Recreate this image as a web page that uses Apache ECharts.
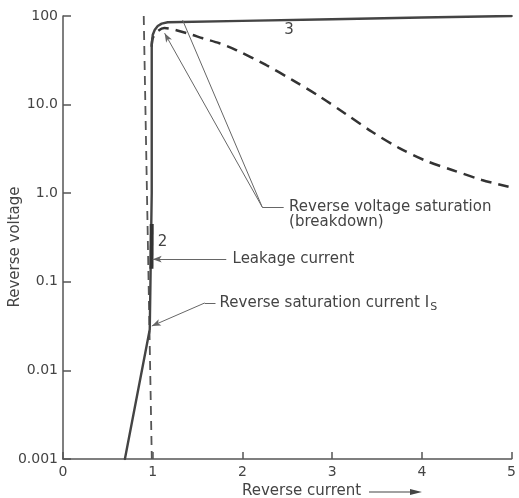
<!DOCTYPE html>
<html><head><meta charset="utf-8">
<script src="https://cdn.jsdelivr.net/npm/echarts@6/dist/echarts.min.js"></script>
<style>html,body{margin:0;padding:0;background:#fff}#c{width:519px;height:498px}</style>
</head><body><div id="c"></div>
<script>
// ---- data ----
const yTickValues = [0.001, 0.01, 0.1, 1, 10, 100];
const yTickLabels = ['0.001', '0.01', '0.1', '1.0', '10.0', '100'];

// curve 1/3: reverse saturation + breakdown knee + flat top (solid)
const solidX = [0.69, 0.967, 0.975, 0.989, 0.989, 1.0, 1.022, 1.056, 1.1, 1.167, 2.0, 3.0, 4.0, 5.0];
const solidY = [0.001, 0.029, 0.1, 1, 47, 61, 69.5, 77, 82, 85, 88, 92, 96, 100];

// curve 2: thick leakage segment
const leakX = [0.986, 0.989];
const leakY = [0.14, 0.45];

// dashed near-vertical line
const vDashX = [0.9, 0.99];
const vDashY = [100, 0.001];

// dashed breakdown curve
const dashX = [0.989, 1.0, 1.055, 1.13, 1.38, 1.559, 1.744, 1.93, 2.263, 2.559, 2.856, 3.152, 3.448, 3.744, 4.041, 4.337, 4.67, 4.967];
const dashY = [45, 56, 67, 73, 64, 56, 49.2, 41.3, 28, 18.9, 12.45, 7.85, 4.9, 3.25, 2.33, 1.83, 1.41, 1.18];

// annotation anchors (data coordinates)
const breakJoint = [2.22, 0.70];
const breakTipA = [1.133, 64];
const breakTipB = [1.333, 90];
const breakEnd = [2.46, 0.70];
const breakText = [2.52, 0.70];
const leakTip = [1.0, 0.18];
const leakEnd = [1.82, 0.18];
const leakText = [1.89, 0.18];
const satTip = [0.99, 0.0317];
const satBend = [1.58, 0.0577];
const satEnd = [1.70, 0.0577];
const satText = [1.745, 0.0577];
const label3 = [2.52, 69];
const label2 = [1.11, 0.28];

const zip = (a, b) => a.map((v, i) => [v, b[i]]);
const FONT = 'DejaVu Sans';
const INK = '#444';

const chart = echarts.init(document.getElementById('c'), null, {renderer: 'canvas'});
const lineStyleA = {color: '#666', width: 1, type: 'solid'};
const seg = (a, b, arrow) => [
  {coord: a, symbol: 'none'},
  {coord: b, symbol: arrow ? 'arrow' : 'none', symbolSize: arrow ? [5, 9] : 0}
];

chart.setOption({
  animation: false,
  grid: {left: 63, right: 4, top: 16, bottom: 39, containLabel: false},
  xAxis: {
    type: 'value', min: 0, max: 5, interval: 1,
    axisLine: {lineStyle: {color: '#555', width: 1.5}},
    axisTick: {inside: true, length: 7, lineStyle: {color: '#555', width: 1.5}},
    axisLabel: {color: INK, fontSize: 14, fontFamily: FONT, margin: 6},
    splitLine: {show: false}
  },
  yAxis: {
    type: 'log', logBase: 10, min: 0.001, max: 100,
    axisLine: {show: true, lineStyle: {color: '#555', width: 1.5}},
    axisTick: {show: true, inside: true, length: 8, lineStyle: {color: '#555', width: 1.5}},
    axisLabel: {
      color: INK, fontSize: 14, fontFamily: FONT, margin: 5,
      formatter: v => {
        const e = Math.round(Math.log10(v));
        const i = yTickValues.findIndex(t => Math.round(Math.log10(t)) === e);
        return i >= 0 ? yTickLabels[i] : '';
      }
    },
    splitLine: {show: false}
  },
  series: [
    {
      type: 'line', data: zip(vDashX, vDashY), showSymbol: false, symbol: 'none',
      lineStyle: {color: '#555', width: 1.8, type: [9, 6]},
      markLine: {
        silent: true, symbol: 'none', label: {show: false},
        lineStyle: lineStyleA,
        data: [
          seg(breakJoint, breakTipA, true),
          seg(breakJoint, breakTipB, false),
          seg(breakJoint, breakEnd, false),
          seg(leakEnd, leakTip, true),
          seg(satBend, satTip, true),
          seg(satBend, satEnd, false)
        ]
      }
    },
    {
      type: 'line', data: zip(dashX, dashY), showSymbol: false, symbol: 'none',
      smooth: 0.3,
      lineStyle: {color: '#333', width: 2.5, type: [11, 7]}
    },
    {
      type: 'line', data: zip(solidX, solidY), showSymbol: false, symbol: 'none',
      lineStyle: {color: '#444', width: 2.4, join: 'round', cap: 'round'}
    },
    {
      type: 'line', data: zip(leakX, leakY), showSymbol: false, symbol: 'none',
      lineStyle: {color: '#333', width: 4}
    }
  ]
});

const px = p => chart.convertToPixel({gridIndex: 0}, p);
const txt = (p, s, opts) => Object.assign({
  type: 'text', x: p[0], y: p[1],
  style: Object.assign({text: s, fill: INK, font: '15px "DejaVu Sans"', textAlign: 'left', textVerticalAlign: 'middle'}, opts || {})
});
const bt = px(breakText), lt = px(leakText), st = px(satText), l3 = px(label3), l2 = px(label2);
chart.setOption({
  graphic: [
    txt(bt, 'Reverse voltage saturation'),
    txt([bt[0], bt[1] + 15], '(breakdown)'),
    txt(lt, 'Leakage current'),
    {
      type: 'text', x: st[0], y: st[1],
      style: {
        text: 'Reverse saturation current I{s|S}',
        rich: {s: {font: '11px "DejaVu Sans"', fill: INK, padding: [8, 0, 0, 1]}},
        fill: INK, font: '15px "DejaVu Sans"', textAlign: 'left', textVerticalAlign: 'middle'
      }
    },
    txt(l3, '3', {textAlign: 'center', font: '15px "DejaVu Sans"'}),
    txt(l2, '2', {textAlign: 'center', font: '15px "DejaVu Sans"'}),
    {
      type: 'text', x: 15, y: 247, rotation: Math.PI / 2,
      style: {text: 'Reverse voltage', fill: INK, font: '15px "DejaVu Sans"', textAlign: 'center', textVerticalAlign: 'middle'}
    },
    {
      type: 'text', x: 242, y: 491,
      style: {text: 'Reverse current', fill: INK, font: '15px "DejaVu Sans"', textAlign: 'left', textVerticalAlign: 'middle'}
    },
    {type: 'line', shape: {x1: 369, y1: 492, x2: 412, y2: 492}, style: {stroke: '#444', lineWidth: 1.2}},
    {type: 'polygon', shape: {points: [[410, 489], [422, 492], [410, 495]]}, style: {fill: '#444'}}
  ]
});
</script>
</body></html>
